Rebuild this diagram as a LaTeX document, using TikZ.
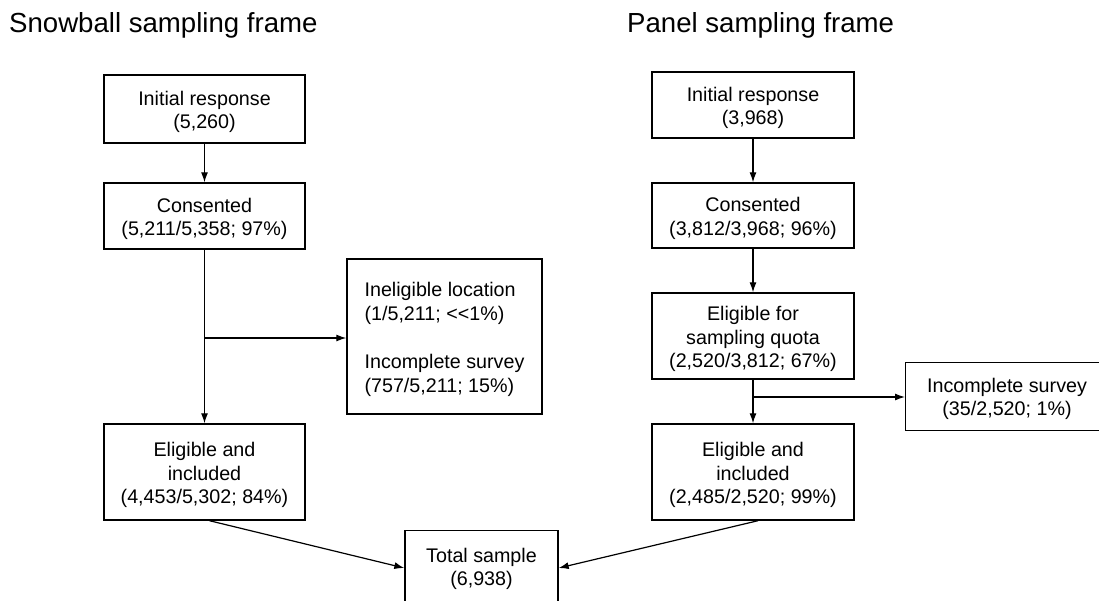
\documentclass[tikz,border=0pt]{standalone}
\usepackage{fontspec}
\setmainfont{Liberation Sans}
\usetikzlibrary{arrows.meta}
\begin{document}
\begin{tikzpicture}[x=1pt,y=-1pt,
  box/.style={draw, line width=1.4pt, inner sep=0pt},
  txt/.style={align=center, font=\fontsize{19.7}{23.5}\selectfont, inner sep=0pt, yshift=-3pt},
  arr/.style={line width=1.2pt, -{Latex[length=10pt,width=7pt]}},
  ttl/.style={anchor=west, font=\fontsize{27.6}{32}\selectfont, inner sep=0pt}]
\clip (0,0) rectangle (1099,600);
\fill[white] (0,0) rectangle (1099,600);
\node[ttl] (t1) at (9,25) {Snowball sampling frame};
\node[ttl] (t2) at (627,25) {Panel sampling frame};
% left column
\node[box, minimum width=201pt, minimum height=68pt] (li) at (204.5,109) {};
\node[txt] (lit) at (li) {Initial response\\(5,260)};
\node[box, minimum width=201pt, minimum height=66pt] (lc) at (204.5,216) {};
\node[txt] (lct) at (lc) {Consented\\(5,211/5,358; 97\%)};
\node[box, minimum width=195pt, minimum height=155pt] (lx) at (444.5,336.5) {};
\node[txt, align=left, font=\fontsize{19.7}{24}\selectfont] (lxt) at (lx) {Ineligible location\\(1/5,211; {<}{<}1\%)\\[24pt]Incomplete survey\\(757/5,211; 15\%)};
\node[box, minimum width=201pt, minimum height=96pt] (le) at (204.5,472) {};
\node[txt] (let) at (le) {Eligible and\\included\\(4,453/5,302; 84\%)};
\node[box, minimum width=153pt, minimum height=84pt, anchor=north] (ts) at (481.5,530) {};
\node[txt] (tst) at (481.5,566) {Total sample\\(6,938)};
% right column
\node[box, minimum width=202pt, minimum height=66pt] (ri) at (753,105) {};
\node[txt] (rit) at (ri) {Initial response\\(3,968)};
\node[box, minimum width=202pt, minimum height=65pt] (rc) at (753,215.5) {};
\node[txt] (rct) at (rc) {Consented\\(3,812/3,968; 96\%)};
\node[box, minimum width=202pt, minimum height=86pt] (rq) at (753,336) {};
\node[txt] (rqt) at (rq) {Eligible for\\sampling quota\\(2,520/3,812; 67\%)};
\node[box, minimum width=200pt, minimum height=68pt, anchor=north west] (rx) at (905,362) {};
\node[txt] (rxt) at (1007,396) {Incomplete survey\\(35/2,520; 1\%)};
\node[box, minimum width=202pt, minimum height=96pt] (re) at (753,472) {};
\node[txt] (ret) at (re) {Eligible and\\included\\(2,485/2,520; 99\%)};
% connectors
\draw[arr] (li) -- (lc);
\draw[arr] (lc) -- (le);
\coordinate (lj) at (lc.south |- 0,338);
\draw[arr] (lj) -- (lx.west |- lj);
\draw[arr] (ri) -- (rc);
\draw[arr] (rc) -- (rq);
\draw[arr] (rq) -- (re);
\coordinate (rj) at (rq.south |- 0,397);
\draw[arr] (rj) -- (rx.west |- rj);
\draw[arr] ([xshift=5pt]le.south) -- (ts.west |- 0,568);
\draw[arr] ([xshift=5pt]re.south) -- (ts.east |- 0,568);
\end{tikzpicture}
\end{document}
